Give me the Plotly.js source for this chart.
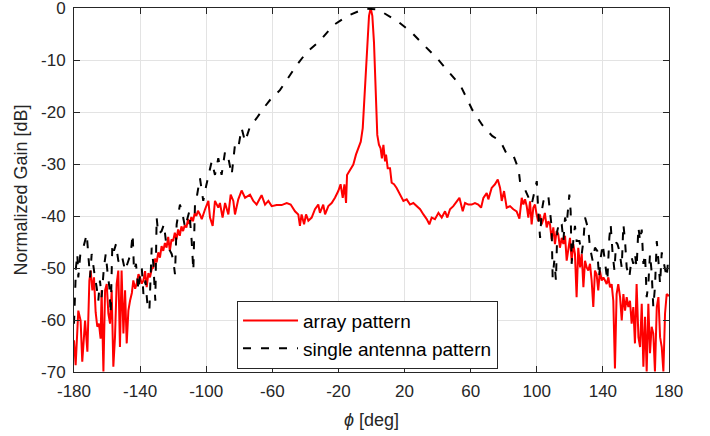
<!DOCTYPE html>
<html><head><meta charset="utf-8">
<script src="https://cdn.plot.ly/plotly-3.0.1.min.js"></script>
<style>body{margin:0;background:#fff}#c{width:710px;height:436px}</style>
</head><body><div id="c"></div>
<script>
// array pattern (red)
const phiArray = [-180,-179,-177.4,-176,-175,-173.3,-171.9,-170.7,-169.9,-168.9,-167.9,-166.9,-165.9,-164.9,-163.9,-163.3,-162.2,-161.2,-160.2,-159.2,-158.2,-157.2,-156.2,-155.2,-154.2,-153.2,-152.2,-151.2,-150.1,-149.1,-148.1,-147.1,-146.1,-145,-144.1,-143,-142.1,-141,-140.1,-139,-138,-137,-136,-135,-134,-133,-132,-131,-130,-129,-128,-127,-126,-125,-124,-123,-122,-121,-120,-119,-118,-117,-116,-115,-114,-113,-112,-111,-110,-109,-108,-107,-106,-105,-103.8,-102.7,-100.7,-98.7,-97.7,-96.1,-94.7,-92.7,-91.7,-90.1,-88.6,-86.6,-85.2,-83.6,-82.6,-80.6,-78.6,-76.5,-73.5,-71.5,-69.5,-66.5,-64.4,-62.4,-60.4,-57.4,-54.4,-51.3,-48.9,-46.3,-44.3,-43.3,-42.3,-40.8,-39.6,-38.2,-36.2,-34.2,-32.2,-31.2,-29.2,-28.1,-26.1,-24.1,-22.1,-20.1,-18.7,-17.4,-16.4,-15.4,-14.8,-14.0,-12.6,-11.0,-9.4,-8.0,-6.5,-5.3,-4.5,-3.5,-2.5,-1.5,-0.5,0.5,1.5,2.5,3.5,4.5,5.5,6.3,7.2,8.2,8.8,9.8,11.2,12.2,13.6,15.2,17.2,19.3,21.3,23.3,25.3,27.3,29.4,31.4,33.4,35.0,36.4,38.4,40.5,42.5,44.5,45.9,47.5,49.5,51.5,53.2,55.2,56.6,58.6,60.6,62.6,64.6,66.3,67.7,69.7,70.7,72.7,74.7,76.4,77.8,78.8,80.2,81.8,83.8,85.8,87.8,89.5,90.9,91.9,92.9,93.9,94.9,95.9,96.9,97.9,98.9,99.9,100.9,101.9,102.9,103.9,104.9,106,107,108,109,110,111,112,113,114,115.1,116.1,117.1,118.1,119.1,120.1,121.1,122.1,123.1,124.1,125.1,126.2,127.2,128.2,129.2,130.2,131.2,132.2,133.2,134.2,135.2,136.2,137.2,138.2,139.3,140.3,141.3,142.3,143.3,144.3,145.3,146.3,147.3,148.3,149.3,150.4,151.4,152.4,153.4,154.4,155.4,156.4,157.4,158.4,159.4,160.4,161.5,162.5,163.5,164.5,165.5,166.5,167.5,168.5,169.5,170.5,171.5,172.6,173.6,174.6,175.6,176.6,177.6,178.6,179.6,180];
const gainArray = [-63.9,-68.7,-58.2,-60.1,-68.0,-60.1,-66.1,-52.4,-50.5,-54.3,-51.8,-58.5,-61.3,-60.7,-63.6,-54.3,-69.9,-54.3,-53.1,-58.8,-60.7,-54.3,-69.0,-63.3,-53.1,-50.5,-65.2,-50.5,-62.6,-54.3,-64.5,-58.2,-56.3,-54.8,-52.4,-54.0,-53.1,-51.2,-51.8,-53.0,-52.4,-50.6,-53.7,-51.0,-51.8,-50.2,-49.9,-48.2,-48.9,-47.0,-48.0,-45.8,-46.7,-45.2,-46.1,-44.0,-46.7,-44.5,-44.8,-43.2,-44.5,-42.6,-43.8,-42.0,-42.9,-41.8,-42.2,-40.6,-41.6,-40.2,-41.0,-39.5,-40.0,-39.0,-39.7,-40.6,-38.7,-37.1,-40.3,-41.9,-37.1,-38.4,-37.5,-40.3,-37.5,-39.7,-35.9,-37.1,-39.7,-36.8,-35.1,-36.5,-35.9,-37.1,-37.8,-36.0,-37.8,-37.1,-38.1,-37.9,-37.9,-37.5,-37.8,-39.1,-39.7,-41.9,-39.7,-41.6,-39.7,-40.9,-40.3,-38.7,-37.8,-39.4,-37.8,-39.7,-38.1,-37.5,-36.5,-35.2,-33.9,-36.5,-33.9,-37.5,-32.1,-31.7,-30.8,-30.1,-28.2,-27.0,-25.7,-23.1,-18.0,-11.7,-5.3,-1.5,0,-1.5,-6.6,-14.9,-24.4,-26.3,-27.0,-28.9,-26.3,-29.5,-28.2,-30.8,-30.8,-33.6,-33.9,-34.6,-35.9,-37.1,-36.8,-37.8,-37.5,-38.1,-38.7,-39.7,-40.6,-41.6,-40.3,-40.6,-39.4,-40.3,-39.1,-40.3,-38.7,-38.1,-37.1,-36.5,-39.1,-37.5,-37.8,-37.8,-37.5,-37.8,-38.4,-36.5,-35.6,-36.8,-34.6,-33.9,-33.0,-34.6,-37.1,-35.2,-38.4,-38.1,-38.7,-39.1,-40.5,-36.5,-37.8,-36.8,-38.1,-40.3,-37.2,-41.6,-38.4,-37.8,-39.7,-41.0,-39.7,-41.6,-40.7,-39.4,-42.2,-41.0,-41.6,-44.5,-42.2,-45.4,-42.9,-43.5,-46.1,-44.2,-45.4,-43.8,-48.6,-46.1,-44.2,-48.6,-45.4,-47.3,-55.6,-46.1,-49.9,-47.3,-53.7,-48.6,-49.9,-50.5,-49.2,-52.4,-57.5,-50.5,-51.2,-54.3,-50.5,-52.4,-51.8,-52.4,-53.1,-51.8,-53.7,-53.1,-56.3,-69.3,-55.0,-53.1,-55.6,-60.1,-55.0,-58.2,-55.6,-57.5,-56.3,-60.7,-57.5,-64.5,-53.1,-63.3,-65.2,-56.9,-69.0,-59.4,-69.9,-56.9,-66.4,-61.3,-62.6,-69.9,-57.5,-55.6,-63.3,-65.2,-69.9,-58.8,-55.0,-55.3,-55.3];

// single antenna pattern (black dashed)
const phiSingle = [-180,-179.4,-178.8,-178,-177.4,-176,-174.4,-172.3,-171.3,-170.3,-169.3,-168.3,-167.3,-166.3,-165.3,-164.3,-163.3,-161.9,-160.8,-159.6,-158.6,-157.8,-156.8,-155.8,-154.6,-153.2,-152.2,-150.8,-149.1,-147.1,-145.7,-144.5,-143.7,-142.5,-141,-140,-139,-138,-136.8,-135.6,-134.4,-133,-132,-130.8,-130,-129,-127,-125.6,-124.4,-122.9,-120.9,-119.9,-118.9,-117.9,-115.9,-114.3,-112.8,-111.8,-110.2,-108.8,-107.8,-106.8,-105.8,-103.8,-101.8,-100.1,-98.7,-96.7,-94.7,-92.7,-90.7,-88.6,-86.6,-84.6,-82.6,-80.6,-78.6,-76.5,-73.5,-69.5,-65.4,-61.4,-55.4,-50.3,-45.3,-39.2,-31.2,-23,-15,-4,4,16,24,31,40,47,54,61,67,73,78,82,86,89,89.9,91.9,93,96.9,97.9,100,101,102,103,104,105.6,107,108,109,109.6,110.6,111.6,112.4,113.7,115.1,116.1,117.1,118.1,119.7,120.5,121.1,122.1,123.1,124.1,125.8,127.2,128.2,129.2,130.2,131.2,132.2,133.8,135.2,136.6,137.7,138.7,139.9,141.3,142.7,143.9,144.7,145.9,147,148,148.8,150,151.4,152.4,153.4,154.4,156,157.4,158.4,159.4,160.4,161.5,162.5,163.5,164.5,165.5,166.5,167.5,168.5,169.5,170.5,171.5,172.6,173.6,174.6,175.6,176.6,177.6,178.6,179.6];
const gainSingle = [-60.7,-55.0,-49.9,-47.3,-51.8,-46.7,-46.1,-43.5,-48.0,-51.8,-47.3,-49.9,-51.8,-53.7,-56.3,-52.4,-55.6,-49.9,-47.3,-51.2,-53.7,-58.8,-45.4,-46.7,-45.4,-48.6,-49.2,-48.0,-50.5,-48.6,-47.3,-43.5,-50.5,-49.2,-54.3,-51.2,-49.9,-55.0,-52.4,-56.9,-58.2,-46.1,-49.2,-56.3,-40.3,-43.5,-42.9,-41.6,-44.8,-46.1,-47.3,-48.6,-51.2,-41.6,-37.8,-39.7,-42.2,-41.0,-39.1,-44.8,-50.5,-37.8,-36.5,-32.7,-37.1,-34.3,-32.1,-29.5,-32.1,-28.9,-32.1,-27.6,-28.9,-32.1,-26.3,-26.9,-23.1,-25.7,-22.8,-21.2,-19.3,-17.7,-15.8,-13.3,-11.0,-8.5,-6.3,-3.3,-1.6,-0.1,-0.3,-2.6,-4.6,-6.9,-9.8,-12.4,-15.0,-19.6,-22.5,-24.6,-25.6,-28.2,-28.5,-31.0,-33.5,-34.6,-35.0,-37.8,-36.5,-33.3,-39.7,-44.2,-39.1,-37.2,-35.9,-36.2,-39.1,-42.2,-51.8,-48.6,-52.4,-42.9,-41.0,-41.6,-44.8,-40.3,-41.6,-35.9,-39.1,-49.2,-44.8,-41.9,-44.8,-44.8,-47.3,-44.8,-40.3,-41.6,-42.6,-46.1,-48.6,-46.1,-46.7,-51.8,-48.0,-45.4,-48.6,-52.4,-44.2,-41.6,-47.3,-50.5,-45.1,-45.4,-46.7,-49.9,-41.6,-44.8,-49.9,-51.8,-48.0,-49.2,-47.3,-49.9,-42.2,-44.8,-42.6,-49.2,-47.3,-55.6,-53.1,-47.3,-50.8,-57.5,-53.7,-44.8,-48.6,-53.1,-47.0,-48.6,-50.5,-51.8,-48.0];

const xTicks = [-180,-140,-100,-60,-20,20,60,100,140,180];
const yTicks = [-70,-60,-50,-40,-30,-20,-10,0];
const seriesNames = ['array pattern','single antenna pattern'];

const font = 'Liberation Sans, Arial, Helvetica, sans-serif';
const axisCommon = {
  showgrid:true, gridcolor:'#e3e3e3', gridwidth:1, zeroline:false,
  showline:true, linecolor:'#262626', linewidth:1, mirror:'ticks',
  ticks:'inside', ticklen:6, tickcolor:'#262626', ticklabeloverflow:'allow',
  tickfont:{family:font, size:17, color:'#262626'}
};
const traces = [
  {x:phiArray, y:gainArray, name:seriesNames[0], mode:'lines', line:{color:'#ff0000', width:2}},
  {x:phiSingle, y:gainSingle, name:seriesNames[1], mode:'lines', line:{color:'#000000', width:2, dash:'8px,10px'}}
];
const layout = {
  width:710, height:436,
  margin:{l:74, r:41, t:8, b:64},
  paper_bgcolor:'#fff', plot_bgcolor:'#fff',
  xaxis: Object.assign({}, axisCommon, {range:[-180,180], tickvals:xTicks, ticktext:xTicks.map(v=>String(v)),
    ticklabelstandoff:4,
    title:{text:'<i>ϕ</i> [deg]', font:{family:font, size:18, color:'#262626'}, standoff:12}}),
  yaxis: Object.assign({}, axisCommon, {range:[-70,0], tickvals:yTicks, ticktext:yTicks.map(v=>String(v)),
    ticklabelstandoff:4,
    title:{text:'Normalized Gain [dB]', font:{family:font, size:18, color:'#262626'}, standoff:8}}),
  showlegend:true,
  legend:{x:0.274, y:0.196, xanchor:'left', yanchor:'top', bgcolor:'#fff', bordercolor:'#262626', borderwidth:1,
    font:{family:font, size:19, color:'#000'}, itemwidth:55, tracegroupgap:0},
};
Plotly.newPlot('c', traces, layout, {displayModeBar:false, staticPlot:true});
</script></body></html>
